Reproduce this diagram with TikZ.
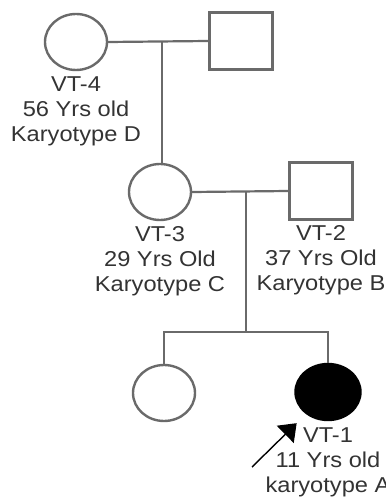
\documentclass[tikz,border=0pt]{standalone}
\usepackage{fontspec}
\usepackage{xcolor}
\usepackage{tikz}
\usetikzlibrary{shapes.geometric,arrows.meta,positioning}
\newfontfamily\pedfont{Liberation Sans}[FakeStretch=1.1]
\definecolor{pedline}{HTML}{6A6A6A}
\definecolor{pedtext}{HTML}{333333}

\begin{document}
\begin{tikzpicture}[
  x=1pt, y=-1pt,
  female/.style={ellipse, draw=pedline, line width=2.4pt, fill=white,
                 minimum width=62pt, minimum height=56pt, inner sep=0pt},
  male/.style={rectangle, draw=pedline, line width=2.4pt, fill=white,
               minimum width=63pt, minimum height=57pt, inner sep=0pt},
  affected/.style={female, draw=black, fill=black, minimum width=65pt},
  info/.style={inner sep=0pt, align=center, text=pedtext,
               font=\pedfont\fontsize{21.5}{25}\selectfont},
  link/.style={draw=pedline, line width=2.2pt},
  proband/.style={-{Triangle[length=16pt, width=24pt]}, line width=1.4pt, draw=black},
]
  \useasboundingbox (0,0) rectangle (385,502);

  % first generation
  \node[female] (vt4) at (76,42) {};
  \node[male] (gpa) at (241,41) {};
  \node[info, below=5pt of vt4] (vt4info) {VT-4\\ 56 Yrs old\\ Karyotype D};

  % second generation
  \node[female] (vt3) at (160,192) {};
  \node[male] (vt2) at (321,191) {};
  \node[info, below=5pt of vt3] (vt3info) {VT-3\\ 29 Yrs Old\\ Karyotype C};
  \node[info, below=5pt of vt2] (vt2info) {VT-2\\ 37 Yrs Old\\ Karyotype B};

  % third generation
  \node[female] (sis) at (164,393) {};
  \node[affected] (vt1) at (328,392) {};
  \node[info, below=6pt of vt1] (vt1info) {VT-1\\ 11 Yrs old\\ karyotype A};

  \coordinate (mate1) at (162,42);
  \coordinate (mate2) at (246,192);
  \coordinate (sibs) at (246,332);
  \coordinate (ptail) at (252,467);

  \draw[link] (vt4.east) -- (gpa.west);
  \draw[link] (mate1) -- (mate1 |- vt3.north);
  \draw[link] (vt3.east) -- (vt2.west);
  \draw[link] (mate2) -- (sibs);
  \draw[link] (sis.north) |- (sibs) -| (vt1.north);

  \draw[proband, shorten >=13pt] (ptail) -- (vt1.225);
\end{tikzpicture}
\end{document}
